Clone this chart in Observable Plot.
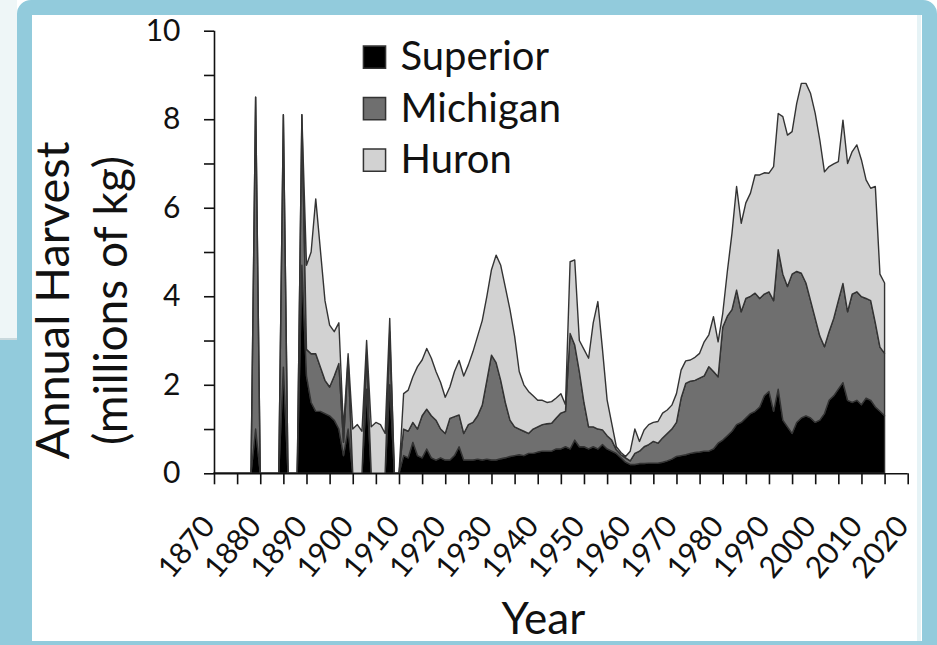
<!DOCTYPE html>
<html><head><meta charset="utf-8">
<script src="https://cdn.jsdelivr.net/npm/d3@7"></script>
<script src="https://cdn.jsdelivr.net/npm/@observablehq/plot@0.6"></script>
<style>
html,body{margin:0;padding:0;background:#fff;}
#wrap{position:relative;width:937px;height:645px;overflow:hidden;background:#fff;}
#chart{position:absolute;left:0;top:0;}
.blk{position:absolute;}
</style></head><body>
<div id="wrap">
  <div id="chart"></div>
  <div class="blk" style="left:0;top:0;width:17px;height:338px;background:#eef6f7;border-bottom:2px solid #c9d9dd;"></div>
  <div class="blk" style="left:0;top:340px;width:32px;height:305px;background:#92cbdc;"></div>
  <div class="blk" style="left:17px;top:0;width:920px;height:660px;box-sizing:border-box;border:15px solid #92cbdc;border-radius:14px;"></div>
  <div class="blk" style="left:917px;top:15px;width:4px;height:630px;background:#e6f3f6;"></div>
  <div class="blk" style="left:0;top:641px;width:937px;height:4px;background:#92cbdc;"></div>
</div>
<script>
const years = d3.range(1870, 2016);
const lakes = ["Superior", "Michigan", "Huron"];
const superior = [
  0,0,0,0,0,0,0,0,0,1.0,
  0,0,0,0,0,2.4,0,0,0,4.7,
  2.2,1.6,1.4,1.4,1.35,1.3,1.2,1.0,0.4,1.0,
  0,0,0,1.9,0,0,0,0,2.0,0,
  0,0.4,0.35,0.7,0.4,0.35,0.55,0.35,0.3,0.35,
  0.3,0.3,0.4,0.6,0.3,0.3,0.3,0.32,0.3,0.32,
  0.3,0.3,0.33,0.35,0.38,0.4,0.42,0.4,0.45,0.45,
  0.48,0.5,0.5,0.5,0.55,0.55,0.6,0.55,0.75,0.6,
  0.6,0.55,0.6,0.55,0.65,0.55,0.5,0.45,0.35,0.25,
  0.2,0.2,0.22,0.22,0.23,0.23,0.23,0.25,0.28,0.32,
  0.38,0.4,0.42,0.45,0.47,0.48,0.5,0.5,0.55,0.68,
  0.75,0.85,0.95,1.1,1.15,1.25,1.35,1.4,1.5,1.75,
  1.85,1.4,1.9,1.2,1.05,0.9,1.15,1.25,1.3,1.25,
  1.15,1.2,1.35,1.65,1.75,1.9,2.05,1.65,1.6,1.65,
  1.55,1.7,1.65,1.5,1.4,1.3
];
const michigan = [
  0,0,0,0,0,0,0,0,0,7.5,
  0,0,0,0,0,5.7,0,0,0,3.4,
  0.6,1.1,1.3,1.0,0.75,0.65,1.0,1.48,0.3,1.6,
  0,0,0,0.8,0,0,0,0,1.2,0,
  0,0.6,0.6,0.45,0.6,0.95,0.9,0.95,0.9,0.65,
  0.6,0.94,0.88,0.72,0.6,0.8,0.85,0.98,1.24,1.78,
  2.37,2.2,1.77,1.25,0.82,0.65,0.58,0.55,0.45,0.55,
  0.57,0.6,0.62,0.63,0.7,0.81,0.8,2.61,2.15,1.7,
  1.0,0.5,0.45,0.45,0.33,0.3,0.25,0.08,0.07,0.1,
  0.08,0.25,0.28,0.38,0.42,0.49,0.45,0.55,0.62,0.68,
  0.77,1.3,1.61,1.63,1.63,1.67,1.7,1.91,1.75,1.5,
  2.55,2.7,2.75,3.04,2.5,2.7,2.65,2.67,2.45,2.3,
  2.25,2.5,3.15,3.3,3.17,3.6,3.41,3.27,3.0,2.65,
  2.35,1.9,1.51,1.55,1.75,2.0,2.24,2.0,2.45,2.45,
  2.44,2.25,2.25,1.9,1.45,1.41
];
const huron = [
  0,0,0,0,0,0,0,0,0,0,
  0,0,0,0,0,0,0,0,0,0,
  1.9,2.3,3.5,2.65,1.8,1.4,1.0,0.92,0.3,0.1,
  1.0,1.1,0.95,0.3,1.05,1.15,1.1,0.9,0.3,0,
  0,0.8,0.93,1.03,1.41,1.26,1.37,1.3,1.1,1.05,
  0.82,0.71,1.02,1.23,1.3,1.35,1.6,1.8,1.91,1.9,
  1.93,2.43,2.6,2.6,2.5,2.05,1.3,1.05,0.95,0.75,
  0.6,0.55,0.48,0.49,0.45,0.44,0.15,1.62,1.92,0.7,
  1.2,1.55,2.35,2.88,1.82,0.81,0.38,0.07,0.05,0.03,
  0.22,0.55,0.22,0.38,0.45,0.43,0.49,0.56,0.53,0.54,
  0.65,0.63,0.51,0.48,0.52,0.56,0.77,0.72,1.24,0.79,
  0.31,1.01,1.72,2.34,2.0,2.16,2.33,2.67,2.79,2.74,
  2.68,3.03,3.08,3.56,3.42,3.22,3.8,4.29,4.51,4.68,
  4.63,4.43,3.95,3.73,3.49,3.14,3.69,3.35,3.22,3.32,
  3.09,2.68,2.54,3.08,1.65,1.59
];
const yMajor = [0, 2, 4, 6, 8, 10];
const yMinor = [1, 3, 5, 7, 9];
const xTicks = d3.range(1870, 2021, 5);
const xLabels = d3.range(1870, 2021, 10);
const colors = ["#000000", "#6f6f6f", "#d2d2d2"];

const series = {Superior: superior, Michigan: michigan, Huron: huron};
const rows = lakes.flatMap(l => years.map((yr, i) => ({year: yr, lake: l, value: series[l][i]})));

const font = "Lato, 'Open Sans', sans-serif";
const ink = "#111";

const plot = Plot.plot({
  width: 937,
  height: 645,
  marginLeft: 214,
  marginRight: 29.3,
  marginTop: 30.7,
  marginBottom: 171.7,
  style: {fontFamily: font, color: ink, background: "transparent", overflow: "visible"},
  x: {domain: [1870, 2020]},
  y: {domain: [0, 10]},
  color: {domain: lakes, range: colors},
  marks: [
    Plot.areaY(rows, Plot.stackY({x: "year", y: "value", z: "lake", fill: "lake", order: lakes,
      stroke: "#333", strokeWidth: 1.4, strokeLinejoin: "round"})),
    Plot.ruleX([1870], {y1: 0, y2: 10, stroke: ink, strokeWidth: 1.6}),
    Plot.ruleY([0], {x1: 1870, x2: 2020, stroke: ink, strokeWidth: 1.6}),
    Plot.axisY({ticks: yMajor, tickSize: 10, tickPadding: 24, fontSize: 30, label: null, stroke: ink, strokeWidth: 1.6}),
    Plot.axisY({ticks: yMinor, tickSize: 10, tickFormat: () => "", label: null, stroke: ink, strokeWidth: 1.6}),
    Plot.axisX({ticks: xTicks, tickSize: 11, tickFormat: () => "", label: null, stroke: ink, strokeWidth: 1.6}),
    Plot.text(xLabels, {x: d => d, frameAnchor: "bottom", text: d => String(d), rotate: -50,
      textAnchor: "end", lineAnchor: "bottom", dx: 2, dy: 53, fontSize: 30, fill: ink}),
    Plot.text(["Annual Harvest"], {frameAnchor: "left", rotate: -90, dx: -146, dy: 48,
      textAnchor: "middle", lineAnchor: "bottom", fontSize: 47, fill: ink}),
    Plot.text(["(millions of kg)"], {frameAnchor: "left", rotate: -90, dx: -88, dy: 48,
      textAnchor: "middle", lineAnchor: "bottom", fontSize: 46, fill: ink}),
    Plot.text(["Year"], {frameAnchor: "bottom", dx: -18, dy: 160,
      textAnchor: "middle", lineAnchor: "bottom", fontSize: 44, fill: ink}),
    ...lakes.map((l, i) => Plot.dot([l], {frameAnchor: "top-left", dx: 160, dy: 26 + i * 51.5,
      symbol: "square", r: 12.5, fill: d => d, stroke: "#333", strokeWidth: 1.5})),
    ...lakes.map((l, i) => Plot.text([l], {frameAnchor: "top-left", dx: 186, dy: 26 + i * 51.5,
      text: d => d, textAnchor: "start", lineAnchor: "middle", fontSize: 40, fill: ink}))
  ]
});
document.getElementById("chart").appendChild(plot);
</script>
</body></html>
